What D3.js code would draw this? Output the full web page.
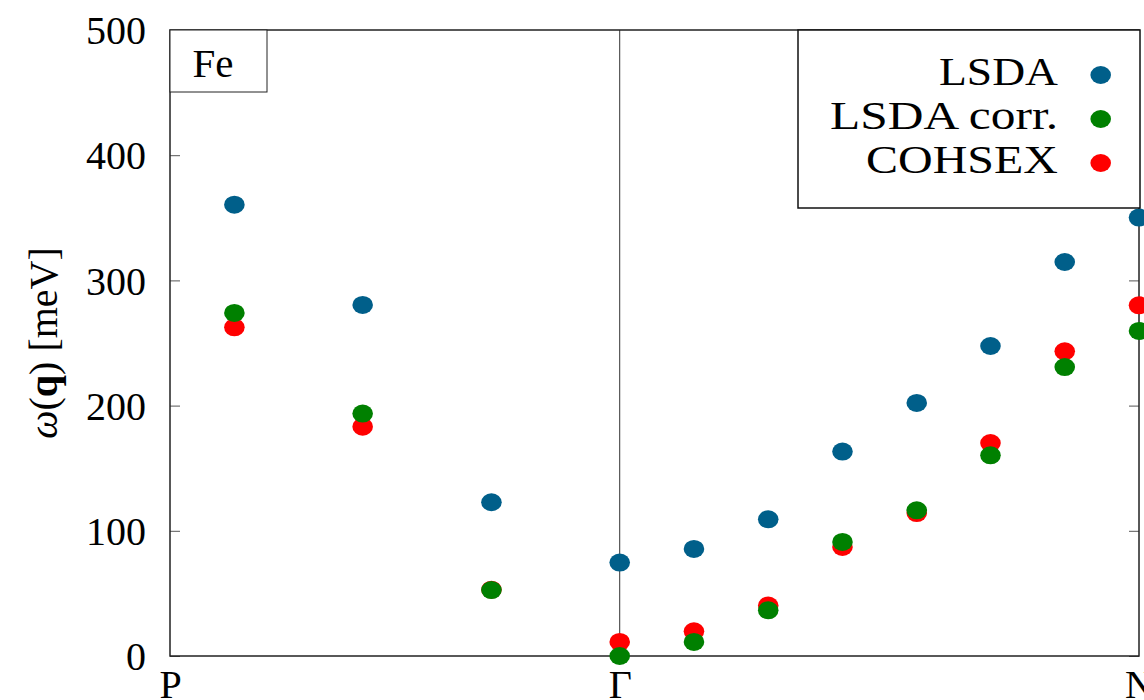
<!DOCTYPE html>
<html>
<head>
<meta charset="utf-8">
<script src="https://cdn.jsdelivr.net/npm/d3@7"></script>
<style>
  html, body { margin: 0; padding: 0; background: #fff; overflow: hidden; }
  svg { display: block; font-family: "Liberation Serif", "DejaVu Serif", serif; }
</style>
</head>
<body>
<svg id="chart" width="1144" height="700"></svg>
<script>
// ---- data ----
const qPos = [0.124, 0.371, 0.619, 0.866, 1.009, 1.152, 1.295, 1.438, 1.580, 1.723, 1.866];
const lsda     = [360.5, 280.4, 122.8, 74.6, 85.5, 109.2, 163.3, 202.1, 247.6, 314.7, 350.2];
const lsdaCorr = [274.0, 193.6, 52.7, 0.0, 11.2, 36.5, 91.1, 116.4, 160.3, 230.8, 259.6];
const cohsex   = [262.5, 183.2, 53.0, 11.2, 19.7, 40.3, 87.1, 114.2, 170.1, 243.4, 280.1];
const xTickPos = [0, 0.866, 1.866];
const xTickLabels = ["P", "Γ", "N"];
const yTicks = [0, 100, 200, 300, 400, 500];
const seriesNames = ["LSDA", "LSDA corr.", "COHSEX"];
const seriesColors = ["#005f8a", "#008000", "#ff0000"];

// ---- layout ----
const W = 1144, H = 700;
const m = { left: 170, top: 30, right: 5, bottom: 44 };
const pw = 1139 - m.left, ph = 656 - m.top;
const svg = d3.select("#chart");
const g = svg.append("g").attr("transform", `translate(${m.left},${m.top})`);

const x = d3.scaleLinear().domain([0, 1.866]).range([0, pw]);
const y = d3.scaleLinear().domain([0, 500]).range([ph, 0]);

const fs = 40;

// Y axis (left) with inward ticks
const yAxisL = d3.axisLeft(y).tickValues(yTicks).tickSize(-10).tickPadding(24).tickFormat(d3.format("d"));
const gy = g.append("g").call(yAxisL);
gy.select(".domain").remove();
gy.selectAll(".tick line").attr("stroke", "#555").attr("stroke-width", 1);
gy.selectAll(".tick text").attr("font-size", fs).attr("font-family", "Liberation Serif").attr("fill", "#000").attr("dy", "0.34em");

// Y axis (right) inward ticks
const yAxisR = d3.axisRight(y).tickValues(yTicks).tickSize(-10).tickFormat("");
const gyr = g.append("g").attr("transform", `translate(${pw},0)`).call(yAxisR);
gyr.select(".domain").remove();
gyr.selectAll(".tick line").attr("stroke", "#555").attr("stroke-width", 1);

// X axis labels
const xAxis = d3.axisBottom(x).tickValues(xTickPos).tickSize(0).tickPadding(12).tickFormat((d, i) => xTickLabels[i]);
const gx = g.append("g").attr("transform", `translate(0,${ph})`).call(xAxis);
gx.select(".domain").remove();
gx.selectAll(".tick text").attr("font-size", fs).attr("font-family", "Liberation Serif").attr("fill", "#000").attr("dy", "0.75em");

// Γ vertical line
g.append("line")
  .attr("x1", x(xTickPos[1])).attr("x2", x(xTickPos[1]))
  .attr("y1", 0).attr("y2", ph)
  .attr("stroke", "#333").attr("stroke-width", 1);

// Plot border
g.append("rect").attr("x", 0).attr("y", 0).attr("width", pw).attr("height", ph)
  .attr("fill", "none").attr("stroke", "#222").attr("stroke-width", 1.5);

// Points: order LSDA, COHSEX, LSDA corr. (green on top)
const drawOrder = [
  { vals: lsda, color: seriesColors[0] },
  { vals: cohsex, color: seriesColors[2] },
  { vals: lsdaCorr, color: seriesColors[1] }
];
drawOrder.forEach(s => {
  g.append("g").selectAll("ellipse").data(s.vals).join("ellipse")
    .attr("cx", (d, i) => x(qPos[i]))
    .attr("cy", d => y(d))
    .attr("rx", 10.3).attr("ry", 9)
    .attr("fill", s.color);
});

// Fe label box
g.append("rect").attr("x", 0).attr("y", 0).attr("width", 97).attr("height", 62)
  .attr("fill", "#fff").attr("stroke", "#222").attr("stroke-width", 1);
g.append("text").attr("x", 43).attr("y", 47).attr("text-anchor", "middle")
  .attr("font-size", 41).attr("fill", "#000").text("Fe");

// Legend
const legX = 798 - m.left, legW = 1140 - 798, legH = 178;
const leg = g.append("g");
leg.append("rect").attr("x", legX).attr("y", 0).attr("width", legW).attr("height", legH)
  .attr("fill", "#fff").attr("stroke", "#111").attr("stroke-width", 1.5);
const legWidths = [119, 228, 192];
const legOrder = [0, 1, 2];
legOrder.forEach((si, r) => {
  const cy = 45 + r * 44;
  leg.append("text").attr("x", 1058 - m.left).attr("y", cy + 10)
    .attr("text-anchor", "end").attr("font-size", 39).attr("fill", "#000")
    .attr("textLength", legWidths[r]).attr("lengthAdjust", "spacingAndGlyphs")
    .text(seriesNames[si]);
  leg.append("ellipse").attr("cx", 1100.7 - m.left).attr("cy", cy)
    .attr("rx", 10.3).attr("ry", 9).attr("fill", seriesColors[si]);
});

// Y axis title
const yt = svg.append("text")
  .attr("transform", `translate(57,${(m.top + 656) / 2}) rotate(-90)`)
  .attr("text-anchor", "middle").attr("font-size", fs).attr("fill", "#000");
yt.append("tspan").attr("font-style", "italic").text("ω");
yt.append("tspan").text("(");
yt.append("tspan").attr("font-weight", "bold").text("q");
yt.append("tspan").text(") [meV]");
</script>
</body>
</html>
